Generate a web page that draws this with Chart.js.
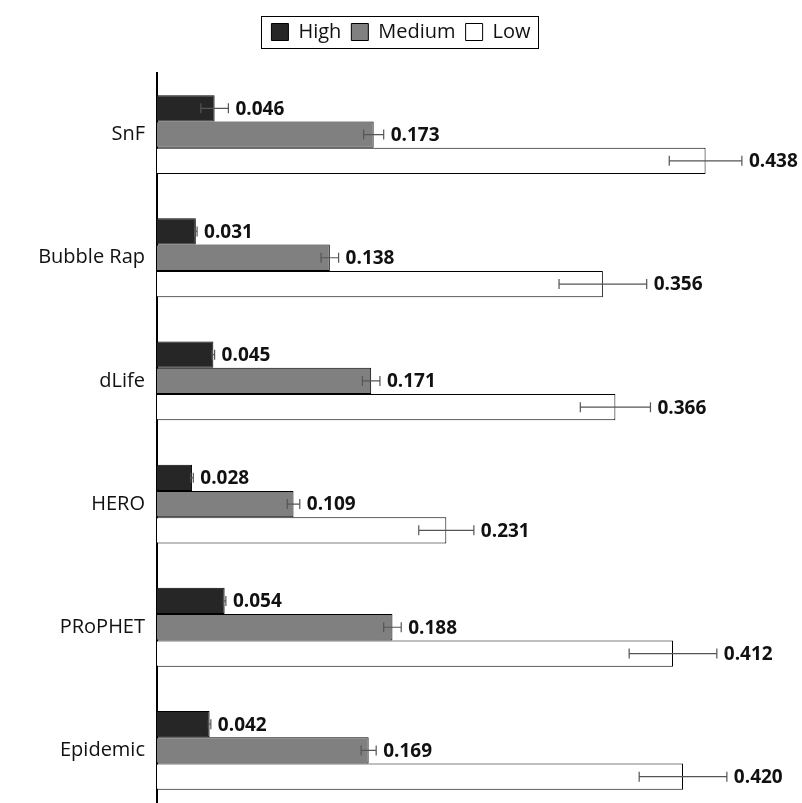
<!DOCTYPE html>
<html>
<head>
<meta charset="utf-8">
<script src="https://cdn.jsdelivr.net/npm/chart.js@4"></script>
<style>
  body { margin: 0; background: #fff; overflow: hidden; }
  #wrap { width: 802px; height: 836px; }
</style>
</head>
<body>
<div id="wrap"><canvas id="chart"></canvas></div>
<script>
const protocols = ["SnF", "Bubble Rap", "dLife", "HERO", "PRoPHET", "Epidemic"];
const highValues = [0.046, 0.031, 0.045, 0.028, 0.054, 0.042];
const mediumValues = [0.173, 0.138, 0.171, 0.109, 0.188, 0.169];
const lowValues = [0.438, 0.356, 0.366, 0.231, 0.412, 0.420];
const highErr = [0.011, 0.001, 0.001, 0.001, 0.001, 0.001];
const mediumErr = [0.008, 0.007, 0.007, 0.005, 0.007, 0.006];
const lowErr = [0.029, 0.035, 0.028, 0.022, 0.035, 0.035];

const errors = [highErr, mediumErr, lowErr];

// error bars + value labels + legend frame
const extras = {
  id: "extras",
  beforeUpdate(chart) {
    const lg = chart.legend;
    if (lg && !lg._padded) {
      const orig = lg.fit;
      lg.fit = function () { orig.call(this); this.height += 21; };
      lg._padded = true;
    }
  },
  afterDatasetsDraw(chart) {
    const ctx = chart.ctx;
    const xScale = chart.scales.x;
    chart.data.datasets.forEach((ds, di) => {
      const meta = chart.getDatasetMeta(di);
      meta.data.forEach((bar, i) => {
        const v = ds.data[i];
        const e = errors[di][i];
        const x0 = xScale.getPixelForValue(v - e);
        const x1 = xScale.getPixelForValue(v + e);
        const y = bar.y;
        ctx.save();
        ctx.strokeStyle = "#555";
        ctx.lineWidth = 1.2;
        ctx.beginPath();
        ctx.moveTo(x0, y); ctx.lineTo(x1, y);
        ctx.moveTo(x0, y - 5); ctx.lineTo(x0, y + 5);
        ctx.moveTo(x1, y - 5); ctx.lineTo(x1, y + 5);
        ctx.stroke();
        ctx.fillStyle = "#111";
        ctx.font = "bold 19px 'Open Sans', sans-serif";
        ctx.textBaseline = "middle";
        ctx.textAlign = "left";
        ctx.fillText(v.toFixed(3), Math.max(x1, bar.x) + 7, y + 1);
        ctx.restore();
      });
    });
    const boxes = chart.legend.legendHitBoxes;
    if (boxes && boxes.length) {
      const left = Math.min(...boxes.map(b => b.left)) - 10;
      const right = Math.max(...boxes.map(b => b.left + b.width)) + 8;
      const top = boxes[0].top - 6;
      const h = boxes[0].height + 12;
      ctx.save();
      ctx.strokeStyle = "#000";
      ctx.lineWidth = 1;
      ctx.strokeRect(Math.round(left) + 0.5, Math.round(top) + 0.5, Math.round(right - left), Math.round(h));
      ctx.restore();
    }
  }
};

new Chart(document.getElementById("chart"), {
  type: "bar",
  data: {
    labels: protocols,
    datasets: [
      { label: "High", data: highValues, backgroundColor: "#262626", borderColor: "#000", borderWidth: 1 },
      { label: "Medium", data: mediumValues, backgroundColor: "#808080", borderColor: "#000", borderWidth: 1 },
      { label: "Low", data: lowValues, backgroundColor: "#fff", borderColor: "#000", borderWidth: 1 },
    ],
  },
  options: {
    indexAxis: "y",
    responsive: true,
    maintainAspectRatio: false,
    animation: false,
    layout: { padding: { top: 12, right: 0, bottom: 0 } },
    barPercentage: 1,
    categoryPercentage: 0.64,
    plugins: {
      tooltip: { enabled: false },
      legend: {
        position: "top",
        labels: {
          boxWidth: 17,
          boxHeight: 17,
          padding: 10,
          color: "#111",
          font: { size: 20, family: "'Open Sans', sans-serif" },
        },
      },
    },
    scales: {
      x: { display: false, min: 0, max: 0.515 },
      y: {
        afterFit(scale) { scale.width = 157; },
        grid: { display: false, drawTicks: false },
        border: { color: "#000", width: 2 },
        ticks: {
          padding: 12,
          color: "#111",
          font: { size: 20, family: "'Open Sans', sans-serif" },
        },
      },
    },
  },
  plugins: [extras],
});
</script>
</body>
</html>
